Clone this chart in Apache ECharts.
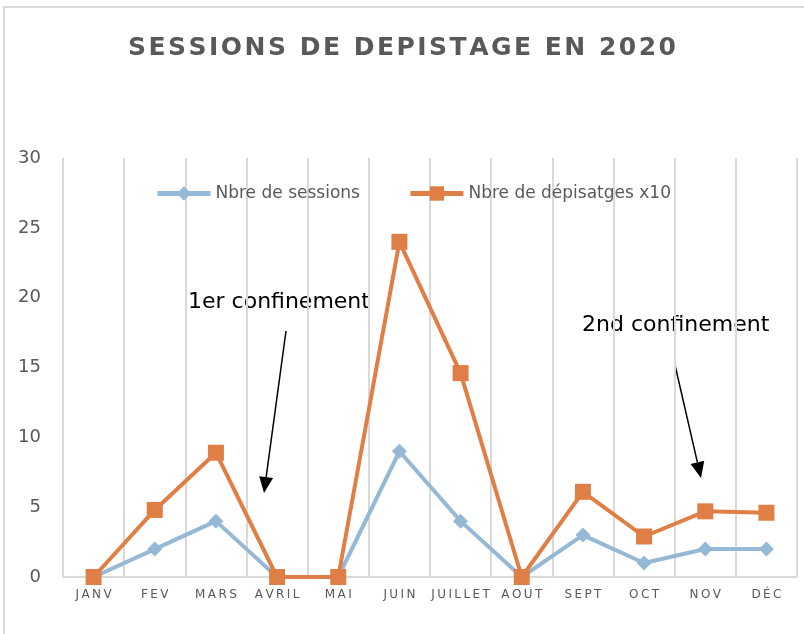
<!DOCTYPE html>
<html>
<head>
<meta charset="utf-8">
<style>
  html, body { margin: 0; padding: 0; background: #fff; }
  #chart { width: 804px; height: 634px; }
</style>
<script src="https://cdn.jsdelivr.net/npm/echarts@6/dist/echarts.min.js"></script>
</head>
<body>
<div id="chart"></div>
<script>
const months = ['JANV', 'FEV', 'MARS', 'AVRIL', 'MAI', 'JUIN', 'JUILLET', 'AOUT', 'SEPT', 'OCT', 'NOV', 'DÉC']
const sessions = [0, 2, 4, 0, 0, 9, 4, 0, 3, 1, 2, 2]
const depistages = [0, 4.8, 8.9, 0, 0, 24, 14.6, 0, 6.1, 2.9, 4.7, 4.6]
const yTicks = [0, 5, 10, 15, 20, 25, 30]

const FONT = 'DejaVu Sans'
const GREY = '#595959'

// spread letters a bit, like the spaced caps of the original
function spaced(s, sep) {
  return s.split('').join(sep)
}

// arrow = line + triangle head ending at (x2, y2)
function arrow(x1, y1, x2, y2) {
  const dx = x2 - x1, dy = y2 - y1
  const len = Math.sqrt(dx * dx + dy * dy)
  const ux = dx / len, uy = dy / len
  const hl = 16, hw = 7
  const bx = x2 - ux * hl, by = y2 - uy * hl
  return [{
    type: 'line',
    shape: { x1: x1, y1: y1, x2: bx, y2: by },
    style: { stroke: '#000', lineWidth: 1.5 }
  }, {
    type: 'polygon',
    shape: { points: [[x2, y2], [bx - uy * hw, by + ux * hw], [bx + uy * hw, by - ux * hw]] },
    style: { fill: '#000' }
  }]
}

const chart = echarts.init(document.getElementById('chart'))

chart.setOption({
  animation: false,
  title: {
    text: spaced('SESSIONS DE DEPISTAGE EN 2020', '\u200a'),
    left: 'center',
    top: 31,
    textStyle: { fontFamily: FONT, fontSize: 25, fontWeight: 'bold', color: GREY }
  },
  legend: {
    left: 150,
    top: 180,
    itemWidth: 53,
    itemHeight: 18,
    itemGap: 48,
    textStyle: { fontFamily: FONT, fontSize: 17, color: GREY },
    lineStyle: { width: 5 },
    data: ['Nbre de sessions', 'Nbre de dépisatges x10']
  },
  grid: { left: 63, right: 7, top: 158, bottom: 57 },
  xAxis: {
    type: 'category',
    data: months,
    boundaryGap: true,
    axisLine: { lineStyle: { color: '#d9d9d9', width: 2 } },
    axisTick: { show: false },
    axisLabel: {
      interval: 0,
      margin: 12,
      fontFamily: FONT,
      fontSize: 12,
      color: GREY,
      formatter: function (v) { return spaced(v, '\u2009') }
    },
    splitLine: { show: true, interval: 0, lineStyle: { color: '#d9d9d9', width: 2 } }
  },
  yAxis: {
    type: 'value',
    min: 0,
    max: 30,
    interval: 5,
    axisLine: { show: false },
    axisTick: { show: false },
    splitLine: { show: false },
    axisLabel: {
      margin: 22,
      fontFamily: FONT,
      fontSize: 18,
      color: GREY,
      formatter: function (v) { return yTicks.indexOf(v) >= 0 ? String(v) : '' }
    }
  },
  series: [{
    name: 'Nbre de sessions',
    type: 'line',
    data: sessions,
    symbol: 'diamond',
    symbolSize: 15,
    lineStyle: { color: '#95b8d6', width: 4 },
    itemStyle: { color: '#95b8d6' }
  }, {
    name: 'Nbre de dépisatges x10',
    type: 'line',
    data: depistages,
    symbol: 'rect',
    symbolSize: 16,
    lineStyle: { color: '#e07f45', width: 4 },
    itemStyle: { color: '#e07f45' }
  }],
  graphic: [{
    type: 'rect',
    shape: { x: 4, y: 7, width: 820, height: 650 },
    style: { fill: 'none', stroke: '#d9d9d9', lineWidth: 2 },
    silent: true
  }, {
    type: 'text',
    left: 188,
    top: 291,
    style: { text: '1er confinement', fontFamily: FONT, fontSize: 22, fill: '#000' }
  }, {
    type: 'text',
    left: 582,
    top: 314,
    style: { text: '2nd confinement', fontFamily: FONT, fontSize: 22, fill: '#000' }
  }].concat(arrow(286, 331, 264, 493), arrow(675, 365, 701, 478))
})
</script>
</body>
</html>
